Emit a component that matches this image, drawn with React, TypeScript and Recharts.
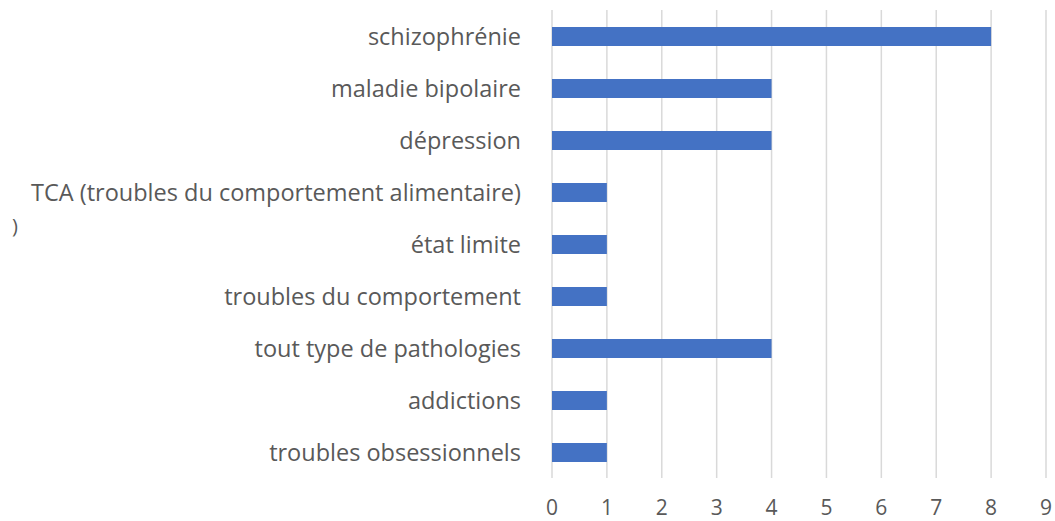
import { Bar, BarChart, CartesianGrid, XAxis, YAxis } from "recharts";

const categories = [
  "schizophrénie",
  "maladie bipolaire",
  "dépression",
  "TCA (troubles du comportement alimentaire)",
  "état limite",
  "troubles du comportement",
  "tout type de pathologies",
  "addictions",
  "troubles obsessionnels",
];
const counts = [8, 4, 4, 1, 1, 1, 4, 1, 1];
const xTicks = [0, 1, 2, 3, 4, 5, 6, 7, 8, 9];

const data = categories.map((name, i) => ({ name, value: counts[i] }));

const FONT = "'Open Sans', 'Noto Sans', sans-serif";

function CategoryTick({ x, y, payload }: any) {
  const isTca = payload.value.startsWith("TCA");
  return (
    <g>
      <text x={x} y={y} dy="0.4em" textAnchor="end" fill="#595959" fontSize={23.5} fontFamily={FONT}>
        {payload.value}
      </text>
      {/* stray wrapped fragment left over in the original */}
      {isTca ? (
        <text x={15} y={y + 33} dy="0.4em" textAnchor="middle" fill="#595959" fontSize={20} fontFamily={FONT}>
          )
        </text>
      ) : null}
    </g>
  );
}

export default function App() {
  return (
    <div style={{ position: "absolute", left: 0, top: 0, background: "#fff" }}>
      <BarChart
        width={1055}
        height={521}
        data={data}
        layout="vertical"
        margin={{ top: 10, right: 9, bottom: 13, left: 0 }}
        barSize={19}
      >
        <CartesianGrid horizontal={false} stroke="#d9d9d9" strokeWidth={1.5} />
        <XAxis
          type="number"
          domain={[0, 9]}
          ticks={xTicks}
          axisLine={false}
          tickLine={false}
          tickSize={0}
          tickMargin={22}
          height={30}
          tick={{ fill: "#595959", fontSize: 21, fontFamily: FONT }}
        />
        <YAxis
          type="category"
          dataKey="name"
          width={552}
          axisLine={false}
          tickLine={false}
          tickSize={0}
          tickMargin={31}
          tick={<CategoryTick />}
        />
        <Bar dataKey="value" fill="#4472c4" isAnimationActive={false} />
      </BarChart>
    </div>
  );
}
